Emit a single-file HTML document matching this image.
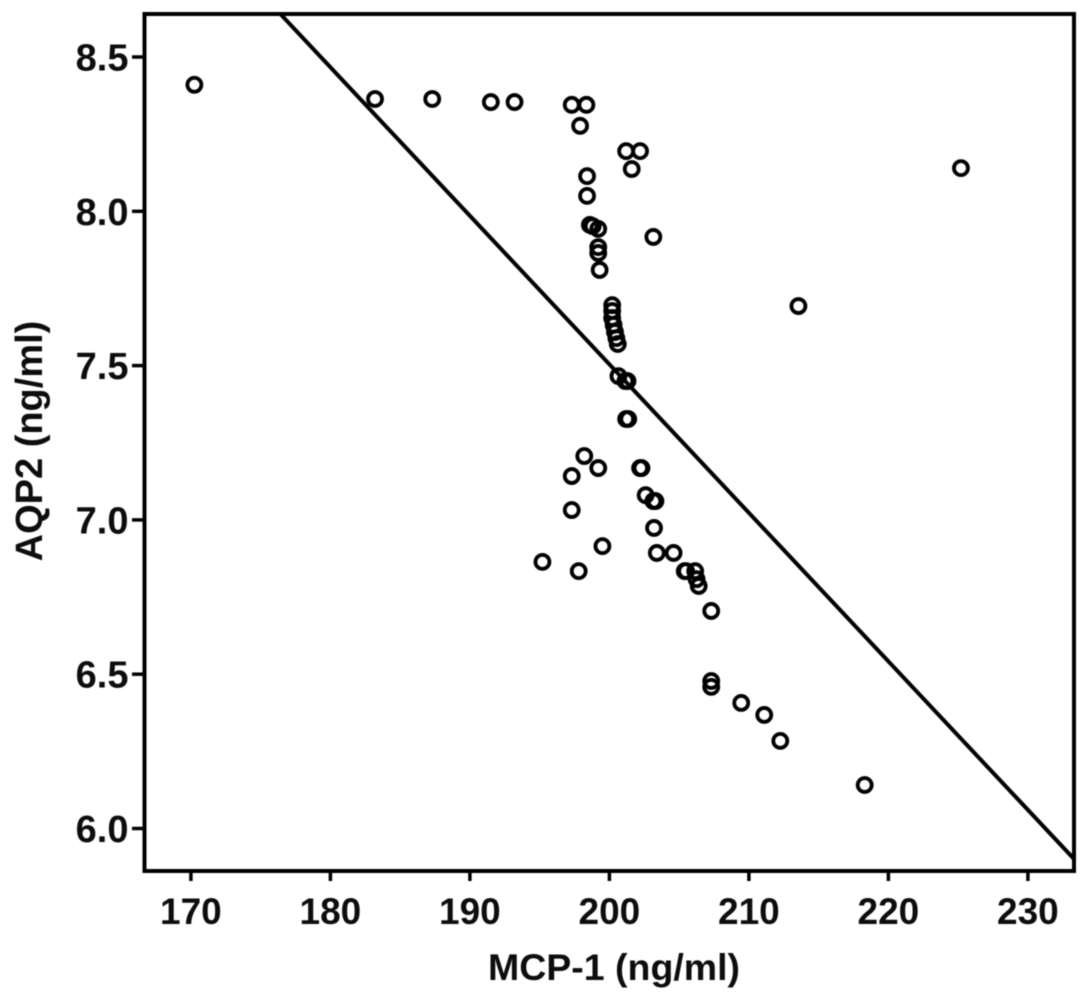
<!DOCTYPE html>
<html>
<head>
<meta charset="utf-8">
<title>AQP2 vs MCP-1 scatter plot</title>
<style>
html,body{margin:0;padding:0;background:#fff;width:1087px;height:1002px;overflow:hidden}
svg{display:block;filter:blur(0.6px)}
text{font-family:"Liberation Sans",sans-serif;font-weight:bold;fill:#0d0d0d}
</style>
</head>
<body>
<svg id="chart" xmlns="http://www.w3.org/2000/svg" width="1087" height="1002" viewBox="0 0 1087 1002">
  <defs><clipPath id="plot-clip"><rect x="144" y="14" width="930" height="857"/></clipPath></defs>
  <rect x="144.5" y="14" width="929.5" height="857" fill="none" stroke="#000" stroke-width="4"/>
  <g id="x-ticks"></g>
  <g id="y-ticks"></g>
  <g id="marks" clip-path="url(#plot-clip)"></g>
  <text x="614" y="980" font-size="37.5" text-anchor="middle">MCP-1 (ng/ml)</text>
  <text transform="translate(42,441) rotate(-90)" font-size="38" text-anchor="middle">AQP2 (ng/ml)</text>
</svg>
<script>
const xTickLabels = [170, 180, 190, 200, 210, 220, 230];
const yTickLabels = ["6.0", "6.5", "7.0", "7.5", "8.0", "8.5"];
const mcp1Values = [170.25,183.2,187.3,191.5,193.2,197.3,198.35,197.9,201.2,202.2,201.6,225.2,198.4,198.4,198.6,198.8,199.2,203.15,199.2,199.2,199.3,213.55,200.2,200.2,200.2,200.3,200.4,200.5,200.6,200.65,201.15,201.3,201.2,201.35,198.2,197.3,199.2,202.2,202.3,202.6,203.15,203.3,197.3,203.2,199.5,203.4,204.6,195.2,197.8,205.4,205.5,206.15,206.25,206.4,207.3,207.3,207.3,209.45,211.1,212.25,218.3];
const aqp2Values = [8.41,8.364,8.364,8.354,8.354,8.345,8.345,8.277,8.195,8.195,8.137,8.14,8.114,8.05,7.956,7.952,7.943,7.917,7.884,7.865,7.81,7.693,7.696,7.677,7.654,7.632,7.609,7.589,7.57,7.466,7.45,7.45,7.327,7.327,7.207,7.142,7.168,7.168,7.168,7.08,7.061,7.061,7.032,6.974,6.915,6.893,6.893,6.864,6.834,6.834,6.834,6.834,6.808,6.786,6.705,6.478,6.459,6.407,6.368,6.284,6.141];
const fitLineX = [176.4, 233.33];
const fitLineY = [8.64, 5.9];

const NS = "http://www.w3.org/2000/svg";
function xScale(v){ return 190.9 + (v - 170) * 13.95; }
function yScale(v){ return 828.5 - (v - 6) * 308.6; }

const xGroup = document.getElementById("x-ticks");
xTickLabels.forEach(function(label){
  const px = xScale(label);
  const tick = document.createElementNS(NS, "line");
  
  
  tick.setAttribute("x1", px); tick.setAttribute("x2", px);
  tick.setAttribute("y1", 871); tick.setAttribute("y2", 881);
  tick.setAttribute("stroke", "#000"); tick.setAttribute("stroke-width", 3.5);
  xGroup.appendChild(tick);
  const text = document.createElementNS(NS, "text");
  
  
  text.setAttribute("x", px); text.setAttribute("y", 924);
  text.setAttribute("font-size", 37); text.setAttribute("text-anchor", "middle");
  text.textContent = label;
  xGroup.appendChild(text);
});

const yGroup = document.getElementById("y-ticks");
yTickLabels.forEach(function(label){
  const py = yScale(parseFloat(label));
  const tick = document.createElementNS(NS, "line");
  
  
  tick.setAttribute("x1", 132); tick.setAttribute("x2", 144);
  tick.setAttribute("y1", py); tick.setAttribute("y2", py);
  tick.setAttribute("stroke", "#000"); tick.setAttribute("stroke-width", 3.5);
  yGroup.appendChild(tick);
  const text = document.createElementNS(NS, "text");
  
  
  text.setAttribute("x", 128.5); text.setAttribute("y", py + 13.5);
  text.setAttribute("font-size", 38); text.setAttribute("text-anchor", "end");
  text.textContent = label;
  yGroup.appendChild(text);
});

const marks = document.getElementById("marks");
const fit = document.createElementNS(NS, "line");


fit.setAttribute("x1", xScale(fitLineX[0])); fit.setAttribute("y1", yScale(fitLineY[0]));
fit.setAttribute("x2", xScale(fitLineX[1])); fit.setAttribute("y2", yScale(fitLineY[1]));
fit.setAttribute("stroke", "#000"); fit.setAttribute("stroke-width", 4);
marks.appendChild(fit);

mcp1Values.forEach(function(v, i){
  const c = document.createElementNS(NS, "circle");
  
  
  c.setAttribute("cx", xScale(v)); c.setAttribute("cy", yScale(aqp2Values[i]));
  c.setAttribute("r", 7);
  c.setAttribute("fill", "none"); c.setAttribute("stroke", "#000"); c.setAttribute("stroke-width", 3.8);
  marks.appendChild(c);
});
</script>
</body>
</html>
